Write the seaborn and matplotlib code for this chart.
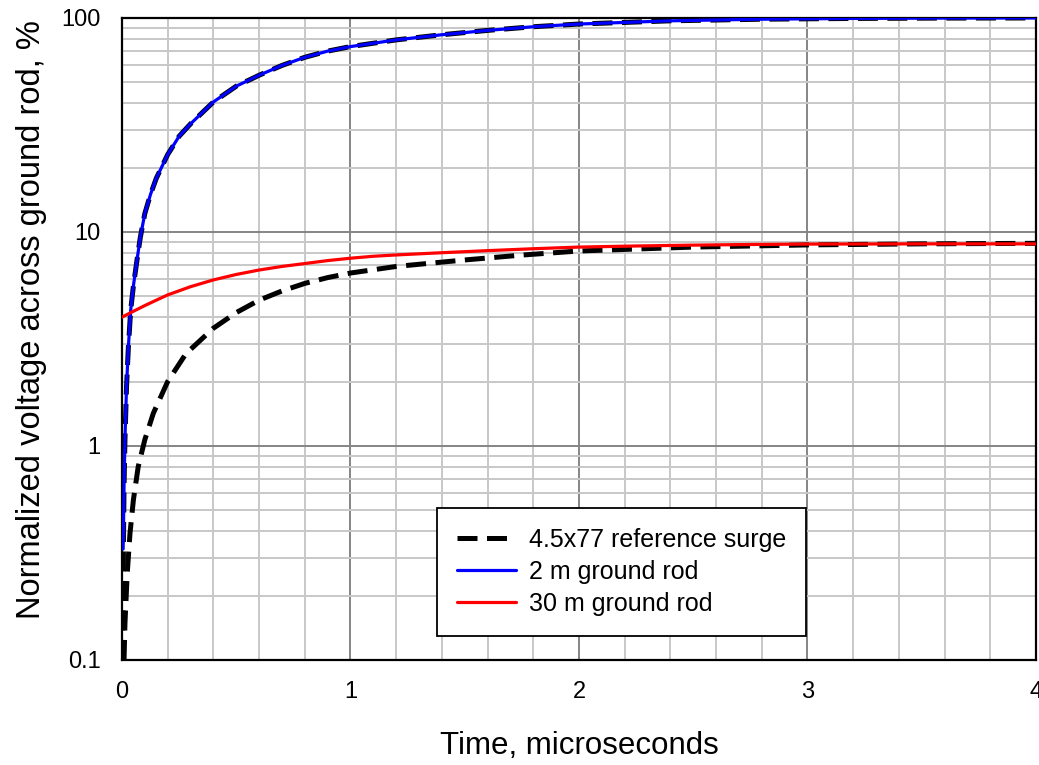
import matplotlib
matplotlib.use("Agg")
import matplotlib.pyplot as plt
import seaborn as sns
from matplotlib.ticker import FixedLocator, MultipleLocator, LogLocator, NullFormatter

# 4.5x77 reference surge, normalized to its own peak (%)
surge_t = [0.003, 0.005, 0.007, 0.009, 0.013, 0.02, 0.028, 0.038, 0.05, 0.065, 0.08,
           0.1, 0.125, 0.15, 0.2, 0.25, 0.3, 0.4, 0.5, 0.6, 0.7, 0.8, 0.9, 1.0,
           1.2, 1.4, 1.6, 1.8, 2.0, 2.4, 2.8, 3.2, 3.6, 4.0]
surge_v = [0.1, 0.2, 0.4, 0.65, 1.07, 1.9, 2.9, 4.3, 5.6, 7.3, 9.4,
           12.2, 15.0, 17.8, 23.0, 28.0, 32.0, 40.5, 48.0, 54.0, 60.0, 65.5, 70.0, 73.5,
           79.0, 83.5, 87.5, 91.0, 93.7, 97.0, 98.7, 99.5, 99.9, 100.0]

# same surge shape, scaled to the 30 m rod's final level (%)
surge_low_t = [0.009, 0.013, 0.023, 0.035, 0.05, 0.071, 0.1, 0.137, 0.2, 0.28,
               0.4, 0.5, 0.6, 0.7, 0.8, 0.9, 1.0, 1.2, 1.5, 1.75, 2.0, 2.5, 3.0, 3.5, 4.0]
surge_low_v = [0.1, 0.148, 0.254, 0.39, 0.56, 0.8, 1.07, 1.42, 2.0, 2.7,
               3.55, 4.2, 4.8, 5.3, 5.75, 6.12, 6.43, 6.9, 7.4, 7.8, 8.15, 8.5, 8.7, 8.8, 8.85]

# voltage across the 2 m ground rod (%)
rod2_t = [0.005, 0.007, 0.009, 0.013, 0.02, 0.028, 0.038, 0.05, 0.065, 0.08,
          0.1, 0.125, 0.15, 0.2, 0.25, 0.3, 0.4, 0.5, 0.6, 0.7, 0.8, 0.9, 1.0,
          1.2, 1.4, 1.6, 1.8, 2.0, 2.4, 2.8, 3.2, 3.6, 4.0]
rod2_v = [0.33, 0.45, 0.65, 1.07, 1.9, 2.9, 4.3, 5.6, 7.3, 9.4,
          12.2, 15.0, 17.8, 23.0, 28.0, 32.0, 40.5, 48.0, 54.0, 60.0, 65.5, 70.0, 73.5,
          79.0, 83.5, 87.5, 91.0, 93.7, 97.0, 98.7, 99.5, 99.9, 100.0]

# voltage across the 30 m ground rod (%)
rod30_t = [0.0, 0.05, 0.1, 0.15, 0.2, 0.3, 0.4, 0.5, 0.6, 0.7, 0.8, 0.9, 1.0, 1.1,
           1.2, 1.4, 1.6, 1.8, 2.0, 2.25, 2.5, 2.75, 3.0, 3.5, 4.0]
rod30_v = [4.0, 4.26, 4.53, 4.8, 5.08, 5.55, 5.97, 6.33, 6.64, 6.9, 7.12, 7.35, 7.54, 7.7,
           7.81, 8.0, 8.18, 8.35, 8.5, 8.6, 8.68, 8.74, 8.78, 8.8, 8.8]

legend_labels = ["4.5x77 reference surge", "2 m ground rod", "30 m ground rod"]
y_ticks = [0.1, 1, 10, 100]
y_tick_labels = ["0.1", "1", "10", "100"]
x_ticks = [0, 1, 2, 3, 4]

sns.set_style("white")
plt.rcParams["font.family"] = ["Liberation Sans", "DejaVu Sans"]
plt.rcParams["text.color"] = "black"
plt.rcParams["axes.labelcolor"] = "black"
plt.rcParams["xtick.color"] = "black"
plt.rcParams["ytick.color"] = "black"

fig = plt.figure(figsize=(10.39, 7.65), dpi=100)
ax = fig.add_axes([0.1174, 0.1373, 0.8797, 0.8392])

dash = (4.0, 1.9)
sns.lineplot(x=surge_t, y=surge_v, ax=ax, color="black", lw=3.6, sort=False, zorder=3)
sns.lineplot(x=surge_low_t, y=surge_low_v, ax=ax, color="black", lw=3.6, sort=False, zorder=3)
for ln in ax.lines:
    ln.set_dashes(dash)
sns.lineplot(x=rod2_t, y=rod2_v, ax=ax, color="#0000ff", lw=2.3, sort=False, zorder=4)
sns.lineplot(x=rod30_t, y=rod30_v, ax=ax, color="#ff0000", lw=2.3, sort=False, zorder=4)
h_surge, _, h_rod2, h_rod30 = ax.lines[:4]

ax.set_yscale("log")
ax.set_xlim(0, 4)
ax.set_ylim(0.1, 100)

ax.xaxis.set_major_locator(FixedLocator(x_ticks))
ax.xaxis.set_minor_locator(MultipleLocator(0.2))
ax.yaxis.set_major_locator(FixedLocator(y_ticks))
ax.set_yticklabels(y_tick_labels)
ax.yaxis.set_minor_locator(LogLocator(base=10, subs=range(2, 10)))
ax.yaxis.set_minor_formatter(NullFormatter())

ax.set_axisbelow(True)
ax.grid(True, which="major", color="#858585", lw=1.4)
ax.grid(True, which="minor", color="#c8c8c8", lw=1.4)

ax.tick_params(which="major", direction="out", length=6.5, width=1.6, color="black",
               labelsize=17, pad=9)
ax.tick_params(which="minor", length=0)
for s in ax.spines.values():
    s.set_color("black")
    s.set_linewidth(1.6)

ax.set_xlabel("Time, microseconds", fontsize=22.5, labelpad=20)
ax.set_ylabel("Normalized voltage across ground rod, %", fontsize=23.5, labelpad=10,
              y=0.531)

leg = ax.legend([h_surge, h_rod2, h_rod30], legend_labels,
                loc="lower left", bbox_to_anchor=(0.345, 0.037, 0.403, 0.2),
                mode="expand", fontsize=18, frameon=True, fancybox=False,
                edgecolor="black", framealpha=1, handlelength=2.35,
                handletextpad=0.5, labelspacing=0.32, borderpad=0.8,
                borderaxespad=0)
leg.get_frame().set_linewidth(1.3)
leg.set_zorder(10)

fig.savefig("out.png", dpi=100, facecolor="white")
